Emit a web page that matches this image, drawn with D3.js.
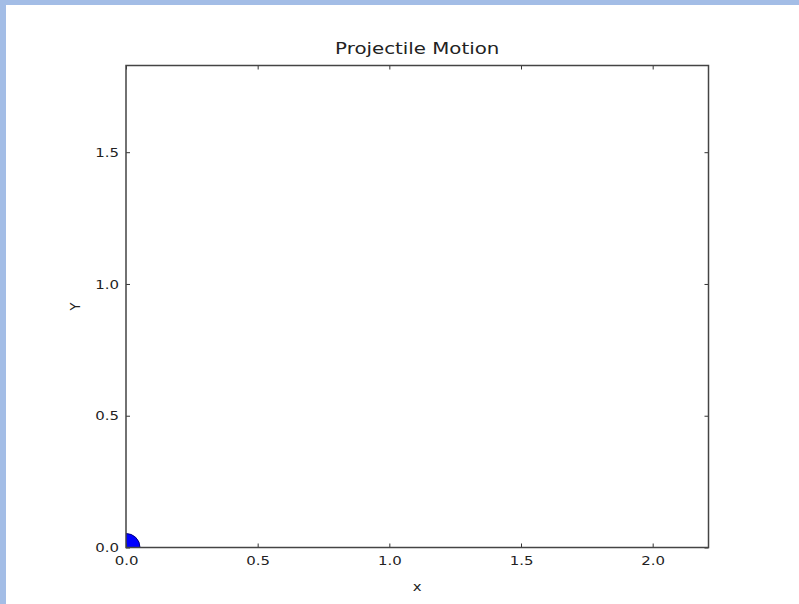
<!DOCTYPE html>
<html>
<head>
<meta charset="utf-8">
<script src="https://cdn.jsdelivr.net/npm/d3@7"></script>
<style>
  body { margin: 0; background: #a3bde6; }
  svg { display: block; }
  text { font-family: "DejaVu Sans", sans-serif; fill: #222; }
</style>
</head>
<body>
<script>
var w = 799;
var h = 604;

// data
var xTicks = [0.0, 0.5, 1.0, 1.5, 2.0];
var yTicks = [0.0, 0.5, 1.0, 1.5];
var xDomain = [0, 2.212];
var yDomain = [0, 1.829];
var ballX = [0.0];
var ballY = [0.0];

var margin = {left: 126, top: 65.5, right: 708.5, bottom: 547.5};
var stretch = 1.15; // the picture's text looks wider than it is tall

var x = d3.scaleLinear().domain(xDomain).range([margin.left, margin.right]);
var y = d3.scaleLinear().domain(yDomain).range([margin.bottom, margin.top]);

var svg = d3.select("body")
    .append("svg")
    .attr("width", w)
    .attr("height", h);

// white canvas inside the blue border
svg.append("rect")
    .attr("x", 6).attr("y", 5)
    .attr("width", w - 6).attr("height", h - 5)
    .attr("fill", "white");

// clip for the ball
svg.append("clipPath").attr("id", "plotclip")
    .append("rect")
    .attr("x", margin.left).attr("y", margin.top)
    .attr("width", margin.right - margin.left)
    .attr("height", margin.bottom - margin.top);

svg.append("g").attr("clip-path", "url(#plotclip)")
    .selectAll("circle")
    .data(ballX.map(function (d, i) { return [d, ballY[i]]; }))
    .enter()
    .append("circle")
    .attr("cx", function (d) { return x(d[0]); })
    .attr("cy", function (d) { return y(d[1]); })
    .attr("r", 14)
    .attr("fill", "#0000ff")
    .attr("stroke", "#000080")
    .attr("stroke-width", 1);

// axes with inward ticks (bottom, top, left, right)
var fmt = d3.format(".1f");
var bottomAxis = svg.append("g")
    .attr("transform", "translate(0," + margin.bottom + ")")
    .call(d3.axisBottom(x).tickValues(xTicks).tickFormat(fmt).tickSizeInner(-4).tickSizeOuter(0).tickPadding(8));
var topAxis = svg.append("g")
    .attr("transform", "translate(0," + margin.top + ")")
    .call(d3.axisTop(x).tickValues(xTicks).tickFormat("").tickSizeInner(-4).tickSizeOuter(0));
var leftAxis = svg.append("g")
    .attr("transform", "translate(" + margin.left + ",0)")
    .call(d3.axisLeft(y).tickValues(yTicks).tickFormat(fmt).tickSizeInner(-4).tickSizeOuter(0).tickPadding(7));
var rightAxis = svg.append("g")
    .attr("transform", "translate(" + margin.right + ",0)")
    .call(d3.axisRight(y).tickValues(yTicks).tickFormat("").tickSizeInner(-4).tickSizeOuter(0));

[bottomAxis, topAxis, leftAxis, rightAxis].forEach(function (g) {
    g.select(".domain").remove();
    g.selectAll("line").attr("stroke", "#333");
    g.selectAll("text").attr("font-size", 13).attr("fill", "#222")
        .attr("font-family", "'DejaVu Sans', sans-serif");
});
bottomAxis.selectAll("text").attr("transform", "scale(" + stretch + ",1)");
leftAxis.selectAll("text")
    .attr("x", -7 / stretch)
    .attr("transform", "scale(" + stretch + ",1)");

// frame
svg.append("rect")
    .attr("x", margin.left).attr("y", margin.top)
    .attr("width", margin.right - margin.left)
    .attr("height", margin.bottom - margin.top)
    .attr("fill", "none")
    .attr("stroke", "#444")
    .attr("stroke-width", 1.5);

// labels
svg.append("text")
    .attr("transform", "translate(" + ((margin.left + margin.right) / 2) + ",54) scale(1.2,1)")
    .attr("text-anchor", "middle")
    .attr("font-size", 16.5)
    .text("Projectile Motion");

svg.append("text")
    .attr("transform", "translate(" + ((margin.left + margin.right) / 2) + ",591) scale(" + stretch + ",1)")
    .attr("text-anchor", "middle")
    .attr("font-size", 13)
    .text("x");

svg.append("text")
    .attr("transform", "translate(80," + ((margin.top + margin.bottom) / 2) + ") rotate(-90) scale(1," + stretch + ")")
    .attr("text-anchor", "middle")
    .attr("font-size", 13)
    .text("Y");
</script>
</body>
</html>
